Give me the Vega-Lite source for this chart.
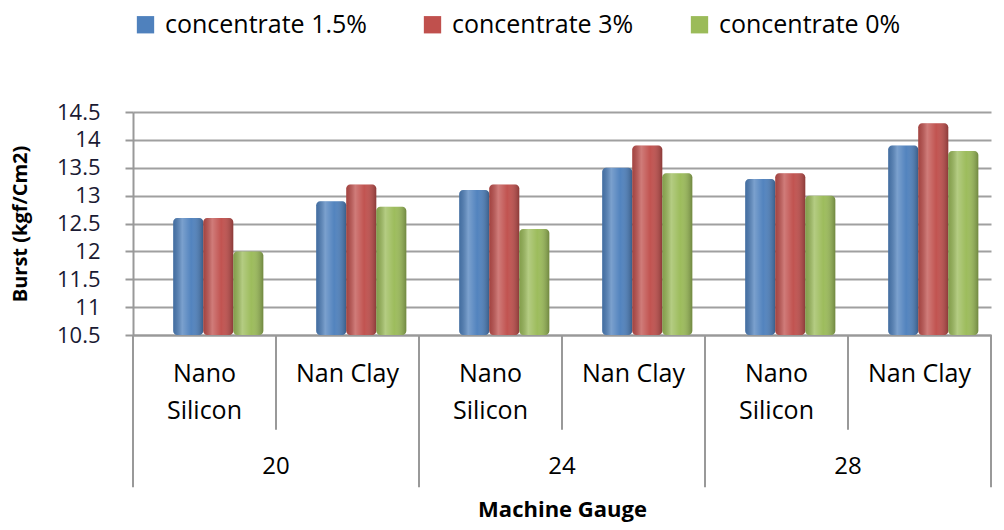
{
  "$schema": "https://vega.github.io/schema/vega-lite/v6.json",
  "padding": {"left": 10, "top": 12, "right": 5, "bottom": 2},
  "background": "white",
  "width": 858,
  "height": 223,
  "data": {"values": [
    {"cell": "20|Nano Silicon", "gauge": "20", "material": "Nano Silicon", "conc": "concentrate 1.5%", "burst": 12.6},
    {"cell": "20|Nano Silicon", "gauge": "20", "material": "Nano Silicon", "conc": "concentrate 3%", "burst": 12.6},
    {"cell": "20|Nano Silicon", "gauge": "20", "material": "Nano Silicon", "conc": "concentrate 0%", "burst": 12.0},
    {"cell": "20|Nan Clay", "gauge": "20", "material": "Nan Clay", "conc": "concentrate 1.5%", "burst": 12.9},
    {"cell": "20|Nan Clay", "gauge": "20", "material": "Nan Clay", "conc": "concentrate 3%", "burst": 13.2},
    {"cell": "20|Nan Clay", "gauge": "20", "material": "Nan Clay", "conc": "concentrate 0%", "burst": 12.8},
    {"cell": "24|Nano Silicon", "gauge": "24", "material": "Nano Silicon", "conc": "concentrate 1.5%", "burst": 13.1},
    {"cell": "24|Nano Silicon", "gauge": "24", "material": "Nano Silicon", "conc": "concentrate 3%", "burst": 13.2},
    {"cell": "24|Nano Silicon", "gauge": "24", "material": "Nano Silicon", "conc": "concentrate 0%", "burst": 12.4},
    {"cell": "24|Nan Clay", "gauge": "24", "material": "Nan Clay", "conc": "concentrate 1.5%", "burst": 13.5},
    {"cell": "24|Nan Clay", "gauge": "24", "material": "Nan Clay", "conc": "concentrate 3%", "burst": 13.9},
    {"cell": "24|Nan Clay", "gauge": "24", "material": "Nan Clay", "conc": "concentrate 0%", "burst": 13.4},
    {"cell": "28|Nano Silicon", "gauge": "28", "material": "Nano Silicon", "conc": "concentrate 1.5%", "burst": 13.3},
    {"cell": "28|Nano Silicon", "gauge": "28", "material": "Nano Silicon", "conc": "concentrate 3%", "burst": 13.4},
    {"cell": "28|Nano Silicon", "gauge": "28", "material": "Nano Silicon", "conc": "concentrate 0%", "burst": 13.0},
    {"cell": "28|Nan Clay", "gauge": "28", "material": "Nan Clay", "conc": "concentrate 1.5%", "burst": 13.9},
    {"cell": "28|Nan Clay", "gauge": "28", "material": "Nan Clay", "conc": "concentrate 3%", "burst": 14.3},
    {"cell": "28|Nan Clay", "gauge": "28", "material": "Nan Clay", "conc": "concentrate 0%", "burst": 13.8}
  ]},
  "encoding": {
    "x": {
      "field": "cell", "type": "nominal",
      "sort": ["20|Nano Silicon", "20|Nan Clay", "24|Nano Silicon", "24|Nan Clay", "28|Nano Silicon", "28|Nan Clay"],
      "title": "Machine Gauge",
      "scale": {"paddingInner": 0, "paddingOuter": 0},
      "axis": {
        "labelAngle": 0, "labelFont": "Open Sans", "labelFontSize": 25, "labelColor": "#000",
        "labelLineHeight": 37, "labelBaseline": "top", "labelPadding": 26,
        "labelExpr": "split(datum.value, '|')[1] == 'Nano Silicon' ? ['Nano', 'Silicon'] : split(datum.value, '|')[1]",
        "ticks": false, "domainColor": "#999", "domainWidth": 2,
        "titleFont": "Open Sans", "titleFontSize": 22, "titleFontWeight": "bold", "titleColor": "#000", "titlePadding": 76
      }
    }
  },
  "layer": [
    {
      "mark": {"type": "bar", "cornerRadius": 4, "clip": true},
      "encoding": {
        "xOffset": {"field": "conc", "type": "nominal", "sort": ["concentrate 1.5%", "concentrate 3%", "concentrate 0%"], "scale": {"paddingInner": 0, "paddingOuter": 0.88, "align": 0.76}},
        "y": {
          "field": "burst", "type": "quantitative",
          "scale": {"domain": [10.5, 14.5], "nice": false, "zero": false},
          "axis": {
            "title": "Burst (kgf/Cm2)", "values": [10.5, 11, 11.5, 12, 12.5, 13, 13.5, 14, 14.5], "tickCount": 12, "format": ".3~g",
            "labelOverlap": false, "labelBound": false,
            "labelFont": "Open Sans", "labelFontSize": 22, "labelColor": "#1a1a33", "labelPadding": 25,
            "tickSize": 8, "tickColor": "#999", "tickWidth": 2, "domainColor": "#999", "domainWidth": 2,
            "gridColor": "#a0a0a0", "gridWidth": 2,
            "titleFont": "Open Sans", "titleFontSize": 20, "titleFontWeight": "bold", "titleColor": "#000", "titlePadding": 26
          }
        },
        "y2": {"datum": 10.5},
        "color": {
          "field": "conc", "type": "nominal",
          "scale": {"domain": ["concentrate 1.5%", "concentrate 3%", "concentrate 0%"], "range": ["#4F81BD", "#C0504D", "#9BBB59"]},
          "legend": {
            "title": null, "orient": "top", "direction": "horizontal", "symbolType": "square", "symbolSize": 300,
            "symbolStrokeWidth": 0, "labelFont": "Open Sans", "labelFontSize": 25, "labelColor": "#000", "labelLimit": 0,
            "columnPadding": 53, "labelOffset": 7, "offset": 74
          }
        }
      }
    },
    {
      "mark": {
        "type": "bar", "cornerRadius": 4, "clip": true,
        "fill": {"gradient": "linear", "x1": 0, "y1": 0, "x2": 1, "y2": 0, "stops": [
          {"offset": 0, "color": "rgba(0,0,0,0.15)"},
          {"offset": 0.3, "color": "rgba(255,255,255,0.25)"},
          {"offset": 0.6, "color": "rgba(255,255,255,0.02)"},
          {"offset": 1, "color": "rgba(0,0,0,0.28)"}
        ]}
      },
      "encoding": {
        "xOffset": {"field": "conc", "type": "nominal", "sort": ["concentrate 1.5%", "concentrate 3%", "concentrate 0%"]},
        "y": {"field": "burst", "type": "quantitative"},
        "y2": {"datum": 10.5}
      }
    },
    {
      "transform": [{"filter": "datum.material == 'Nano Silicon' && datum.conc == 'concentrate 1.5%'"}],
      "mark": {"type": "rule", "color": "#999", "strokeWidth": 2, "clip": false},
      "encoding": {
        "x": {"field": "cell", "type": "nominal", "bandPosition": 0},
        "y": {"datum": 10.5, "type": "quantitative"},
        "y2": {"datum": 7.77}
      }
    },
    {
      "transform": [{"filter": "datum.material == 'Nan Clay' && datum.conc == 'concentrate 1.5%'"}],
      "mark": {"type": "rule", "color": "#999", "strokeWidth": 2, "clip": false},
      "encoding": {
        "x": {"field": "cell", "type": "nominal", "bandPosition": 0},
        "y": {"datum": 10.5, "type": "quantitative"},
        "y2": {"datum": 8.8}
      }
    },
    {
      "transform": [{"filter": "datum.gauge == '28' && datum.material == 'Nan Clay' && datum.conc == 'concentrate 1.5%'"}],
      "mark": {"type": "rule", "color": "#999", "strokeWidth": 2, "clip": false},
      "encoding": {
        "x": {"field": "cell", "type": "nominal", "bandPosition": 1},
        "y": {"datum": 10.5, "type": "quantitative"},
        "y2": {"datum": 7.77}
      }
    },
    {
      "transform": [{"filter": "datum.material == 'Nan Clay' && datum.conc == 'concentrate 1.5%'"}],
      "mark": {"type": "text", "font": "Open Sans", "fontSize": 24, "color": "#000", "baseline": "middle", "align": "center", "clip": false},
      "encoding": {
        "x": {"field": "cell", "type": "nominal", "bandPosition": 0},
        "y": {"datum": 8.13, "type": "quantitative"},
        "text": {"field": "gauge"}
      }
    }
  ],
  "config": {"view": {"stroke": null}, "font": "Open Sans"}
}
